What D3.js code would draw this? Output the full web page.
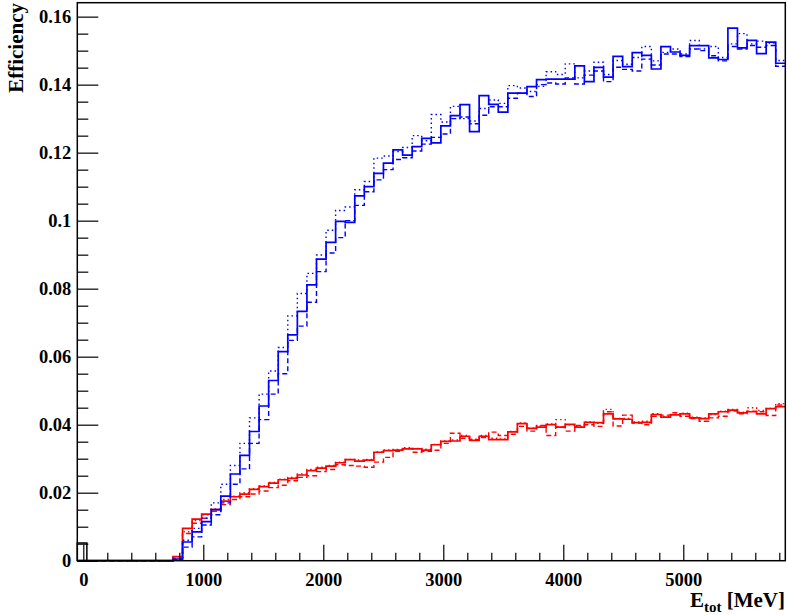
<!DOCTYPE html>
<html>
<head>
<meta charset="utf-8">
<script src="https://cdn.jsdelivr.net/npm/d3@7"></script>
<style>
  html, body { margin: 0; padding: 0; background: #fff; }
  svg { display: block; }
  .tick text { font-family: "Liberation Serif", "DejaVu Serif", serif; font-weight: bold; }
</style>
</head>
<body>
<svg id="chart" width="787" height="615"></svg>
<script>
// Histogram binning: 74 equal bins from -50 to 5850 MeV
const binLow = -50;
const binHigh = 5850;
const nBins = 74;

// Efficiency per bin (bins 0..73)
const blueSolid = [
  0, 0, 0, 0, 0, 0, 0, 0, 0, 0,
  0.0005, 0.0055, 0.0085, 0.0115, 0.0150, 0.0190, 0.0255, 0.0310, 0.0380, 0.0455,
  0.0530, 0.0615, 0.0664, 0.0733, 0.0811, 0.0887, 0.0936, 0.0998, 0.0995, 0.1073,
  0.1100, 0.1139, 0.1169, 0.1208, 0.1193, 0.1218, 0.1242, 0.1229, 0.1279, 0.1309,
  0.1341, 0.1262, 0.1368, 0.1342, 0.1319, 0.1375, 0.1375, 0.1394, 0.1415, 0.1416,
  0.1416, 0.1416, 0.1455, 0.1409, 0.1451, 0.1422, 0.1483, 0.1453, 0.1494, 0.1486,
  0.1446, 0.1512, 0.1496, 0.1486, 0.1515, 0.1515, 0.1479, 0.1474, 0.1566, 0.1508,
  0.1530, 0.1491, 0.1525, 0.1463
];
const blueDashed = [
  0, 0, 0, 0, 0, 0, 0, 0, 0, 0,
  0.0003, 0.0040, 0.0070, 0.0105, 0.0135, 0.0170, 0.0225, 0.0270, 0.0345, 0.0415,
  0.0490, 0.0550, 0.0648, 0.0690, 0.0760, 0.0850, 0.0905, 0.0950, 0.1000, 0.1045,
  0.1085, 0.1120, 0.1150, 0.1180, 0.1185, 0.1205, 0.1225, 0.1245, 0.1255, 0.1300,
  0.1305, 0.1285, 0.1310, 0.1335, 0.1335, 0.1360, 0.1375, 0.1365, 0.1400, 0.1405,
  0.1402, 0.1420, 0.1402, 0.1428, 0.1440, 0.1409, 0.1451, 0.1445, 0.1440, 0.1475,
  0.1458, 0.1490, 0.1490, 0.1483, 0.1505, 0.1500, 0.1485, 0.1470, 0.1512, 0.1505,
  0.1515, 0.1510, 0.1515, 0.1454
];
const blueDotted = [
  0, 0, 0, 0, 0, 0, 0, 0, 0, 0,
  0.0005, 0.0060, 0.0095, 0.0125, 0.0170, 0.0225, 0.0280, 0.0345, 0.0420, 0.0490,
  0.0558, 0.0627, 0.0720, 0.0786, 0.0845, 0.0899, 0.0972, 0.1030, 0.1040, 0.1091,
  0.1115, 0.1184, 0.1190, 0.1203, 0.1215, 0.1250, 0.1235, 0.1312, 0.1290, 0.1336,
  0.1300, 0.1293, 0.1330, 0.1355, 0.1345, 0.1397, 0.1390, 0.1380, 0.1395, 0.1438,
  0.1430, 0.1461, 0.1420, 0.1440, 0.1466, 0.1430, 0.1471, 0.1460, 0.1480, 0.1512,
  0.1470, 0.1495, 0.1505, 0.1490, 0.1530, 0.1505, 0.1512, 0.1480, 0.1520, 0.1550,
  0.1520, 0.1528, 0.1522, 0.1471
];
const redSolid = [
  0, 0, 0, 0, 0, 0, 0, 0, 0, 0,
  0.0012, 0.0095, 0.0122, 0.0137, 0.0150, 0.0175, 0.0188, 0.0196, 0.0210, 0.0218,
  0.0228, 0.0238, 0.0242, 0.0252, 0.0265, 0.0272, 0.0278, 0.0288, 0.0297, 0.0293,
  0.0296, 0.0319, 0.0324, 0.0325, 0.0329, 0.0329, 0.0325, 0.0341, 0.0351, 0.0352,
  0.0366, 0.0354, 0.0366, 0.0356, 0.0356, 0.0379, 0.0403, 0.0389, 0.0393, 0.0400,
  0.0393, 0.0401, 0.0393, 0.0407, 0.0406, 0.0432, 0.0417, 0.0416, 0.0406, 0.0407,
  0.0430, 0.0422, 0.0429, 0.0432, 0.0420, 0.0418, 0.0432, 0.0438, 0.0443, 0.0435,
  0.0438, 0.0432, 0.0447, 0.0453
];
const redDashed = [
  0, 0, 0, 0, 0, 0, 0, 0, 0, 0,
  0.0008, 0.0080, 0.0110, 0.0125, 0.0145, 0.0165, 0.0180, 0.0188, 0.0196, 0.0205,
  0.0215, 0.0222, 0.0235, 0.0245, 0.0250, 0.0262, 0.0268, 0.0282, 0.0280, 0.0278,
  0.0275, 0.0290, 0.0304, 0.0322, 0.0330, 0.0319, 0.0322, 0.0325, 0.0345, 0.0375,
  0.0360, 0.0356, 0.0362, 0.0378, 0.0368, 0.0372, 0.0395, 0.0381, 0.0398, 0.0368,
  0.0393, 0.0381, 0.0398, 0.0400, 0.0395, 0.0438, 0.0396, 0.0428, 0.0405, 0.0400,
  0.0425, 0.0428, 0.0435, 0.0425, 0.0418, 0.0410, 0.0420, 0.0425, 0.0440, 0.0432,
  0.0440, 0.0438, 0.0427, 0.0458
];
const redDotted = [
  0, 0, 0, 0, 0, 0, 0, 0, 0, 0,
  0.0012, 0.0085, 0.0118, 0.0135, 0.0152, 0.0180, 0.0190, 0.0200, 0.0212, 0.0220,
  0.0230, 0.0240, 0.0245, 0.0255, 0.0268, 0.0275, 0.0280, 0.0290, 0.0298, 0.0296,
  0.0298, 0.0320, 0.0326, 0.0327, 0.0332, 0.0330, 0.0328, 0.0342, 0.0352, 0.0355,
  0.0368, 0.0357, 0.0368, 0.0360, 0.0358, 0.0380, 0.0405, 0.0390, 0.0396, 0.0402,
  0.0415, 0.0400, 0.0395, 0.0408, 0.0404, 0.0445, 0.0418, 0.0418, 0.0408, 0.0410,
  0.0432, 0.0424, 0.0430, 0.0434, 0.0422, 0.0420, 0.0430, 0.0440, 0.0445, 0.0437,
  0.0450, 0.0442, 0.0448, 0.0462
];
// Reference histogram: only the first bin is filled
const blackRef = [0.0052];

// Axis ticks
const xMajorTicks = [0, 1000, 2000, 3000, 4000, 5000];
const yMajorTicks = [0, 0.02, 0.04, 0.06, 0.08, 0.1, 0.12, 0.14, 0.16];

const svg = d3.select("#chart");
const frame = { left: 77.3, right: 785.3, top: 2.7, bottom: 560.7 };

const x = d3.scaleLinear().domain([binLow, binHigh]).range([frame.left, frame.right]);
const y = d3.scaleLinear().domain([0, 0.1641]).range([frame.bottom, frame.top]);

const binWidth = (binHigh - binLow) / nBins;
const edges = d3.range(nBins + 1).map(i => binLow + i * binWidth);

// Step outline of a histogram: flat across each bin, vertical at the bin edges
function stepPoints(values) {
  const pts = values.map((v, i) => [edges[i], v]);
  pts.push([edges[values.length], values[values.length - 1]]);
  return pts;
}
const stepLine = d3.line()
  .x(d => x(d[0]))
  .y(d => y(d[1]))
  .curve(d3.curveStepAfter);

const series = [
  { values: redDotted, color: "#ff0000", width: 1.4, dash: "1.5 3" },
  { values: redDashed, color: "#ff0000", width: 1.4, dash: "5 3" },
  { values: redSolid,  color: "#ff0000", width: 1.7, dash: null },
  { values: blueDotted, color: "#0000ff", width: 1.4, dash: "1.5 3" },
  { values: blueDashed, color: "#0000ff", width: 1.4, dash: "5 3" },
  { values: blueSolid,  color: "#0000ff", width: 1.7, dash: null }
];

const plot = svg.append("g");
plot.selectAll("path.hist")
  .data(series)
  .join("path")
  .attr("class", "hist")
  .attr("d", d => stepLine(stepPoints(d.values)))
  .attr("fill", "none")
  .attr("stroke", d => d.color)
  .attr("stroke-width", d => d.width)
  .attr("stroke-dasharray", d => d.dash);

// Reference histogram outline (first bin box)
plot.append("path")
  .attr("d", d3.line()([
    [x(edges[0]), y(0)],
    [x(edges[0]), y(blackRef[0])],
    [x(edges[1]), y(blackRef[0])],
    [x(edges[1]), y(0)]
  ]))
  .attr("fill", "none")
  .attr("stroke", "#000")
  .attr("stroke-width", 1.5);

// Axes with inward ticks, major and minor
const fontFamily = '"Liberation Serif", "DejaVu Serif", serif';

const xMinor = d3.range(0, binHigh, 200).filter(v => v % 1000 !== 0);
svg.append("g")
  .attr("transform", `translate(0,${frame.bottom})`)
  .call(d3.axisBottom(x).tickValues(xMinor).tickSize(-8).tickFormat(""))
  .call(g => g.select(".domain").remove());
svg.append("g")
  .attr("transform", `translate(0,${frame.bottom})`)
  .call(d3.axisBottom(x).tickValues(xMajorTicks).tickSize(-16).tickPadding(12)
        .tickFormat(d3.format("d")))
  .call(g => g.select(".domain").remove())
  .call(g => g.selectAll("text").attr("font-size", 18.5).attr("fill", "#000"));

const yMinor = d3.range(0, 0.165, 0.005).filter((v, i) => i % 4 !== 0);
svg.append("g")
  .attr("transform", `translate(${frame.left},0)`)
  .call(d3.axisLeft(y).tickValues(yMinor).tickSize(-11).tickFormat(""))
  .call(g => g.select(".domain").remove());
svg.append("g")
  .attr("transform", `translate(${frame.left},0)`)
  .call(d3.axisLeft(y).tickValues(yMajorTicks).tickSize(-21).tickPadding(6)
        .tickFormat(v => String(+v.toFixed(2))))
  .call(g => g.select(".domain").remove())
  .call(g => g.selectAll("text").attr("font-size", 18.5).attr("fill", "#000"));

svg.selectAll(".tick line").attr("stroke", "#000").attr("stroke-width", 1.2);

// Frame
svg.append("rect")
  .attr("x", frame.left).attr("y", frame.top)
  .attr("width", frame.right - frame.left).attr("height", frame.bottom - frame.top)
  .attr("fill", "none").attr("stroke", "#000").attr("stroke-width", 1.5);

// Axis titles
const xTitle = svg.append("text")
  .attr("x", 785).attr("y", 607)
  .attr("text-anchor", "end")
  .attr("font-family", fontFamily).attr("font-weight", "bold").attr("font-size", 21);
xTitle.append("tspan").text("E");
xTitle.append("tspan").attr("font-size", 15).attr("dy", 5).text("tot");
xTitle.append("tspan").attr("dy", -5).text(" [MeV]");

svg.append("text")
  .attr("transform", "translate(23,3) rotate(-90)")
  .attr("text-anchor", "end")
  .attr("font-family", fontFamily).attr("font-weight", "bold").attr("font-size", 21)
  .text("Efficiency");
</script>
</body>
</html>
